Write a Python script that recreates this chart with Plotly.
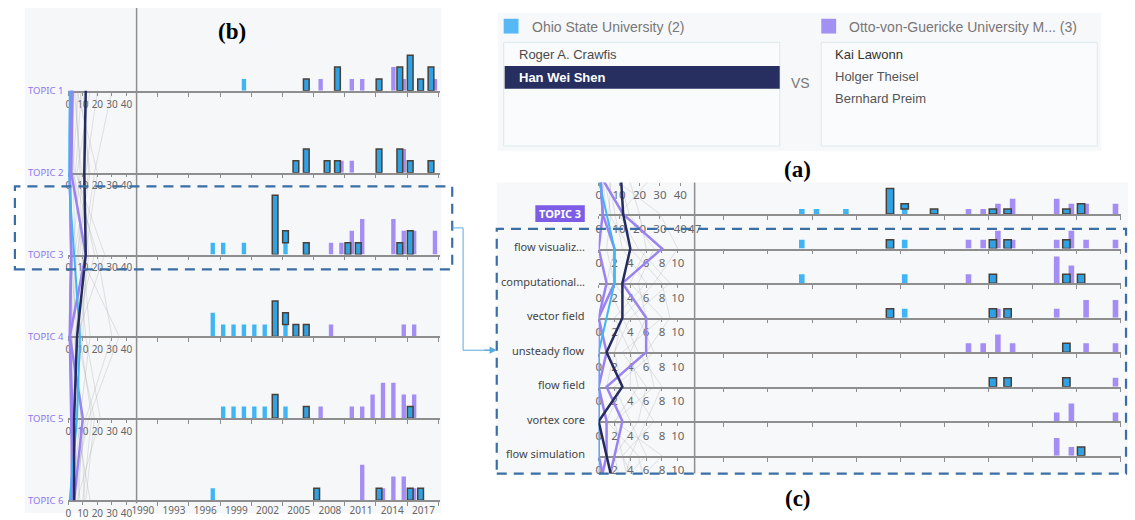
import plotly.graph_objects as go

W, H = 1135, 520

# ---------------------------------------------------------------- data
TOPICS = ["TOPIC 1", "TOPIC 2", "TOPIC 3", "TOPIC 4", "TOPIC 5", "TOPIC 6"]
YEAR_LABELS = [1990, 1993, 1996, 1999, 2002, 2005, 2008, 2011, 2014, 2017]

# papers per year in each topic: Roger A. Crawfis, Han Wei Shen (selected), Otto-von-Guericke group
CRAWFIS_BY_TOPIC = [
    {2000: 1},
    {},
    {1997: 1, 1998: 1, 2000: 1, 2004: 1},
    {1997: 2, 1998: 1, 1999: 1, 2000: 1, 2001: 1, 2002: 1, 2004: 1},
    {1998: 1, 1999: 1, 2000: 1, 2001: 1, 2002: 1, 2004: 1},
    {1997: 1},
]
SHEN_BY_TOPIC = [
    {2006: 1, 2009: 2, 2013: 1, 2015: 2, 2016: 3, 2017: 1, 2018: 2},
    {2005: 1, 2006: 2, 2008: 1, 2009: 1, 2013: 2, 2015: 2, 2016: 1, 2018: 1},
    {2003: 5, 2004: 1, 2006: 1, 2010: 1, 2011: 1, 2015: 1, 2016: 2},
    {2003: 3, 2004: 1, 2005: 1, 2006: 1},
    {2003: 2, 2006: 1, 2016: 1},
    {2007: 1, 2013: 1, 2016: 1, 2017: 1},
]
OVGU_BY_TOPIC = [
    {2007: 1, 2010: 1, 2011: 1, 2014: 2, 2015: 1, 2018: 1},
    {2009: 1, 2010: 1, 2015: 2},
    {2008: 1, 2009: 1, 2010: 2, 2011: 3, 2014: 3, 2015: 2, 2016: 2, 2018: 2},
    {2008: 1, 2015: 1, 2016: 1},
    {2007: 1, 2010: 1, 2011: 1, 2012: 2, 2013: 3, 2014: 3, 2015: 2, 2016: 2},
    {2011: 3, 2013: 1, 2014: 2, 2015: 2, 2016: 1},
]

# papers per topic for each author (parallel axes, TOPIC 1..6)
SHEN_TOPICS = [12, 11, 12, 6, 4, 4]
CRAWFIS_TOPICS = [1, 0, 4, 8, 6, 1]
THEISEL_TOPICS = [3, 2, 12, 1, 3, 2]
PREIM_TOPICS = [2, 1, 2, 1, 10, 4]
LAWONN_TOPICS = [2, 1, 2, 1, 2, 3]
OTHER_TOPICS = [
    [5, 8, 3, 2, 6, 1], [2, 4, 10, 15, 8, 3], [8, 15, 6, 3, 2, 4],
    [1, 3, 20, 30, 12, 5], [12, 10, 14, 8, 16, 10], [3, 1, 2, 6, 4, 2],
    [15, 6, 18, 4, 10, 7], [20, 12, 8, 35, 14, 2], [6, 20, 12, 10, 3, 8],
    [9, 5, 25, 6, 18, 12], [4, 9, 7, 12, 22, 6], [10, 14, 4, 9, 5, 15],
    [30, 18, 10, 5, 3, 2], [7, 3, 5, 2, 9, 11],
]

# keywords of TOPIC 3
KEYWORDS = ["flow visualiz...", "computational...", "vector field", "unsteady flow",
            "flow field", "vortex core", "flow simulation"]
CRAWFIS_BY_KEYWORD = [{1997: 1, 2004: 1}, {1997: 1, 2004: 1}, {2004: 1}, {}, {}, {}, {}]
SHEN_BY_KEYWORD = [
    {2003: 1, 2010: 1, 2011: 1, 2015: 1}, {2010: 1, 2015: 1, 2016: 1},
    {2003: 1, 2010: 1, 2011: 1}, {2015: 1}, {2010: 1, 2011: 1, 2015: 1}, {}, {2016: 1},
]
OVGU_BY_KEYWORD = [
    {2008: 1, 2009: 1, 2010: 2, 2011: 1, 2014: 1, 2015: 2, 2016: 1, 2018: 1},
    {2008: 1, 2014: 3, 2015: 2},
    {2010: 1, 2014: 1, 2016: 2, 2018: 2},
    {2008: 1, 2009: 1, 2010: 2, 2011: 1, 2016: 1, 2018: 1},
    {2018: 1},
    {2014: 1, 2015: 2, 2018: 1},
    {2014: 2, 2015: 1},
]

# detail axes: TOPIC 2, TOPIC 3, seven keywords, next keyword
SHEN_DETAIL = [11, 12, 4, 3, 3, 1, 3, 0, 1, 2]
CRAWFIS_DETAIL = [0, 4, 2, 2, 1, 0, 0, 0, 0, 0]
THEISEL_DETAIL = [2, 12, 8, 3, 6, 6, 1, 3, 2, 1]
PREIM_DETAIL = [1, 2, 2, 2, 0, 1, 0, 1, 1, 0]
LAWONN_DETAIL = [1, 2, 0, 1, 0, 0, 0, 0, 0, 1]
OTHER_DETAIL = [
    [5, 8, 3, 6, 2, 4, 5, 2, 3, 4], [15, 20, 6, 4, 8, 3, 6, 5, 2, 3],
    [3, 6, 1, 2, 5, 7, 2, 4, 6, 2], [25, 10, 5, 9, 4, 2, 3, 1, 5, 6],
    [8, 30, 10, 7, 3, 5, 8, 6, 4, 3], [2, 4, 2, 1, 3, 2, 1, 3, 2, 1],
    [10, 15, 7, 5, 6, 4, 4, 7, 3, 5], [6, 5, 4, 8, 9, 6, 7, 2, 8, 4],
]

# ---------------------------------------------------------------- style
FONT = "Noto Sans"
SANS = "Liberation Sans"
SERIF = "Liberation Serif"
AXIS_COL = "#8e8e8e"
TICK_TXT = "#666666"
CRAWFIS_COL = "#3fb5f6"
SHEN_FILL = "#2ea2e4"
SHEN_EDGE = "#4a4038"
OVGU_COL = "#a48df5"
NAVY = "#232b5f"
PURPLE_LINE = "#9a83f1"
GRAY_LINE = "rgba(150,150,150,0.25)"
BOX_BLUE = "#3a6ea5"

TICK_POS = [1991.7 + 3 * k for k in range(10)]


def px(x):
    return x / W


def py(y):
    return 1 - y / H


fig = go.Figure()
layout = {}
counters = {"x": 0, "y": 0}


def new_axis(kind, **props):
    counters[kind] += 1
    n = counters[kind]
    key = f"{kind}axis" if n == 1 else f"{kind}axis{n}"
    props.setdefault("showgrid", False)
    props.setdefault("zeroline", False)
    props.setdefault("fixedrange", True)
    layout[key] = props
    return kind if n == 1 else f"{kind}{n}"


def bar_row(base, top, unit, dom, xrange, crawfis, shen, ovgu, w_thin, w_sel, shift, labels):
    yid = new_axis("y", domain=[py(base), py(top)], range=[0, (base - top) / unit], visible=False)
    xargs = dict(domain=[px(dom[0]), px(dom[1])], range=xrange, anchor=yid,
                 showline=True, linecolor=AXIS_COL, linewidth=1.5, ticks="",
                 minor=dict(tickmode="array", tickvals=TICK_POS, ticks="outside",
                            ticklen=4, tickwidth=1, tickcolor=AXIS_COL))
    if labels:
        xargs.update(tickmode="array", tickvals=[y + 0.27 for y in YEAR_LABELS],
                     ticktext=[str(y) for y in YEAR_LABELS], showticklabels=True, tickangle=0,
                     tickfont=dict(size=10, color=TICK_TXT, family=FONT))
    else:
        xargs.update(showticklabels=False)
    xid = new_axis("x", **xargs)

    yrs = sorted(ovgu)
    fig.add_trace(go.Bar(x=yrs, y=[ovgu[y] for y in yrs], width=w_thin, offset=shift - w_thin / 2,
                         marker=dict(color=OVGU_COL, line_width=0), xaxis=xid, yaxis=yid))
    yrs = sorted(crawfis)
    fig.add_trace(go.Bar(x=yrs, y=[crawfis[y] for y in yrs], width=w_thin, offset=-w_thin / 2,
                         marker=dict(color=CRAWFIS_COL, line_width=0), xaxis=xid, yaxis=yid))
    yrs = sorted(shen)
    fig.add_trace(go.Bar(x=yrs, y=[shen[y] for y in yrs], base=[crawfis.get(y, 0) for y in yrs],
                         width=w_sel, offset=-w_sel / 2,
                         marker=dict(color=SHEN_FILL, line=dict(color=SHEN_EDGE, width=1.5)),
                         xaxis=xid, yaxis=yid))
    return yid


def count_axis(yid, dom, rng, tickvals, size, line=True):
    xid = new_axis("x", domain=[px(dom[0]), px(dom[1])], range=rng, anchor=yid,
                   showline=line, linecolor=AXIS_COL, linewidth=1.5, tickangle=0,
                   tickmode="array", tickvals=tickvals, ticks="outside", ticklen=3,
                   tickcolor=AXIS_COL, tickfont=dict(size=size, color=TICK_TXT, family=FONT))
    fig.add_trace(go.Scatter(x=[None], y=[None], xaxis=xid, yaxis=yid, mode="markers",
                             showlegend=False, hoverinfo="skip"))


annotations = []
shapes = []


def text(x, y, s, size, color, family=FONT, anchor="left", bold=False):
    annotations.append(dict(x=px(x), y=py(y), xref="paper", yref="paper", showarrow=False,
                            text=f"<b>{s}</b>" if bold else s, xanchor=anchor, yanchor="middle",
                            font=dict(size=size, color=color, family=family)))


def rect(x0, y0, x1, y1, fill=None, line=None, lw=0, dash=None, layer="below"):
    d = dict(type="rect", xref="paper", yref="paper", x0=px(x0), x1=px(x1), y0=py(y1), y1=py(y0),
             layer=layer, line=dict(width=lw, color=line or "rgba(0,0,0,0)"))
    if dash:
        d["line"]["dash"] = dash
    if fill:
        d["fillcolor"] = fill
    shapes.append(d)


def vline(x, y0, y1, color, width):
    shapes.append(dict(type="line", xref="paper", yref="paper", x0=px(x), x1=px(x),
                       y0=py(y0), y1=py(y1), line=dict(color=color, width=width)))


# ---------------------------------------------------------------- panel backgrounds
rect(20, 8, 441, 520, fill="#f6f7f9")
rect(498, 13, 1108, 153, fill="#f7f8fa")
rect(497, 185, 1135, 480, fill="#f7f8fa")

# ---------------------------------------------------------------- panel (b): topics over years
B_TOP, B_STEP = 92, 83
B_YEARS = [1989.67, 2018.9]
for i, name in enumerate(TOPICS):
    base = B_TOP + B_STEP * i
    yid = bar_row(base, base - 78, 12, (133, 440), B_YEARS, CRAWFIS_BY_TOPIC[i],
                  SHEN_BY_TOPIC[i], OVGU_BY_TOPIC[i], 0.42, 0.55, 0.38, labels=(i == len(TOPICS) - 1))
    count_axis(yid, (64, 133), [0, 47], [0, 10, 20, 30, 40], 10)
    text(21, base, name, 9.5, "#8a78ee")

ybp = new_axis("y", domain=[py(515), py(88)],
               range=[(515 - B_TOP) / B_STEP, (88 - B_TOP) / B_STEP], visible=False)
xbp = new_axis("x", domain=[px(64), px(133)], range=[0, 47], anchor=ybp, visible=False)
topic_idx = list(range(len(TOPICS)))


def pline(xs, ys, color, width, xid, yid):
    fig.add_trace(go.Scatter(x=xs, y=ys, mode="lines", line=dict(color=color, width=width),
                             xaxis=xid, yaxis=yid, showlegend=False, hoverinfo="skip"))


for vals in OTHER_TOPICS:
    pline(vals, topic_idx, GRAY_LINE, 1, xbp, ybp)
for vals in (THEISEL_TOPICS, PREIM_TOPICS, LAWONN_TOPICS):
    pline(vals, topic_idx, PURPLE_LINE, 2.5, xbp, ybp)
pline(CRAWFIS_TOPICS, topic_idx, CRAWFIS_COL, 2, xbp, ybp)
pline(SHEN_TOPICS, topic_idx, NAVY, 2.5, xbp, ybp)

vline(133, 8, 510, AXIS_COL, 1.5)

# ---------------------------------------------------------------- panel (c): keywords of TOPIC 3
C_TOP, C_STEP = 217, 35
C_YEARS = [1989.71, 2018.72]
KW_MAX = 12.125

# axis of the topic above (only its labels are in view)
ytop = new_axis("y", domain=[py(184), py(183)], range=[0, 1], visible=False)
count_axis(ytop, (600, 697), [0, 47], [0, 10, 20, 30, 40], 11.5, line=False)

yid = bar_row(C_TOP, C_TOP - 32, 5.2, (697, 1128), C_YEARS, CRAWFIS_BY_TOPIC[2],
              SHEN_BY_TOPIC[2], OVGU_BY_TOPIC[2], 0.38, 0.5, 0.34, labels=False)
count_axis(yid, (600, 697), [0, 47], [0, 10, 20, 30, 40, 47], 11.5)

for k, kw in enumerate(KEYWORDS):
    base = C_TOP + C_STEP * (k + 1)
    yid = bar_row(base, base - 33, 9, (697, 1128), C_YEARS, CRAWFIS_BY_KEYWORD[k],
                  SHEN_BY_KEYWORD[k], OVGU_BY_KEYWORD[k], 0.38, 0.5, 0.34, labels=False)
    count_axis(yid, (600, 697), [0, KW_MAX], [0, 2, 4, 6, 8, 10], 11.5)
    text(588, base - 2, kw, 11, "#444444", anchor="right")

ycp = new_axis("y", domain=[py(480), py(185)],
               range=[(480 - C_TOP) / C_STEP, (185 - C_TOP) / C_STEP], visible=False)
xcp = new_axis("x", domain=[px(600), px(697)], range=[0, 1], anchor=ycp, visible=False)
detail_idx = list(range(-1, len(KEYWORDS) + 2))
detail_max = [47, 47] + [KW_MAX] * (len(KEYWORDS) + 1)


def norm(vals):
    return [v / m for v, m in zip(vals, detail_max)]


for vals in OTHER_DETAIL:
    pline(norm(vals), detail_idx, GRAY_LINE, 1, xcp, ycp)
for vals in (THEISEL_DETAIL, PREIM_DETAIL, LAWONN_DETAIL):
    pline(norm(vals), detail_idx, PURPLE_LINE, 2.5, xcp, ycp)
pline(norm(CRAWFIS_DETAIL), detail_idx, CRAWFIS_COL, 2, xcp, ycp)
pline(norm(SHEN_DETAIL), detail_idx, NAVY, 2.5, xcp, ycp)

vline(697, 185, 480, AXIS_COL, 1.5)

rect(536, 208, 586, 225, fill="#7d5de5", layer="above")
text(561, 216.5, "TOPIC 3", 11, "white", anchor="center", bold=True)

# ---------------------------------------------------------------- panel (a): groups being compared
rect(504, 19, 519, 34, fill="#56b9f6")
rect(825, 19, 840, 34, fill="#a390f3")
rect(504, 43, 783, 148, fill="#fafbfc", line="#dde9ec", lw=1)
rect(825, 43, 1104, 148, fill="#fafbfc", line="#dde9ec", lw=1)
rect(505, 67, 783, 90, fill="#262f5f")
text(531, 27, "Ohio State University (2)", 14, "#777777", family=SANS)
text(851, 27, "Otto-von-Guericke University M... (3)", 14, "#777777", family=SANS)
text(517, 55, "Roger A. Crawfis", 13, "#4a4a4a", family=SANS)
text(517, 78.5, "Han Wei Shen", 13, "white", family=SANS, bold=True)
text(804, 84, "VS", 14, "#777777", family=SANS, anchor="center")
text(837, 55, "Kai Lawonn", 13, "#333333", family=SANS)
text(837, 78, "Holger Theisel", 13, "#555555", family=SANS)
text(837, 100, "Bernhard Preim", 13, "#555555", family=SANS)

# ---------------------------------------------------------------- panel letters and linkage
text(801, 172, "(a)", 23, "black", family=SERIF, anchor="center", bold=True)
text(229, 32, "(b)", 23, "black", family=SERIF, anchor="center", bold=True)
text(801, 505, "(c)", 23, "black", family=SERIF, anchor="center", bold=True)

rect(10, 189, 452, 273, line=BOX_BLUE, lw=2.2, dash="10px,7px", layer="above")
rect(497, 232, 1133, 480, line=BOX_BLUE, lw=2.2, dash="10px,7px", layer="above")
shapes.append(dict(type="path", xref="paper", yref="paper", layer="above",
                   path=f"M {px(452)},{py(231)} L {px(463)},{py(231)} L {px(463)},{py(355)} L {px(490)},{py(355)}",
                   line=dict(color="#5aaae0", width=1)))
annotations.append(dict(x=px(497), y=py(355), xref="paper", yref="paper", text="",
                        showarrow=True, ax=-14, ay=0, arrowhead=2, arrowsize=1.2,
                        arrowwidth=1.2, arrowcolor="#5aaae0"))

fig.update_layout(
    width=W, height=H, margin=dict(l=0, r=0, t=0, b=0),
    paper_bgcolor="white", plot_bgcolor="rgba(0,0,0,0)",
    barmode="overlay", showlegend=False, hovermode=False,
    shapes=shapes, annotations=annotations, **layout,
)

fig.write_html("out.html")
